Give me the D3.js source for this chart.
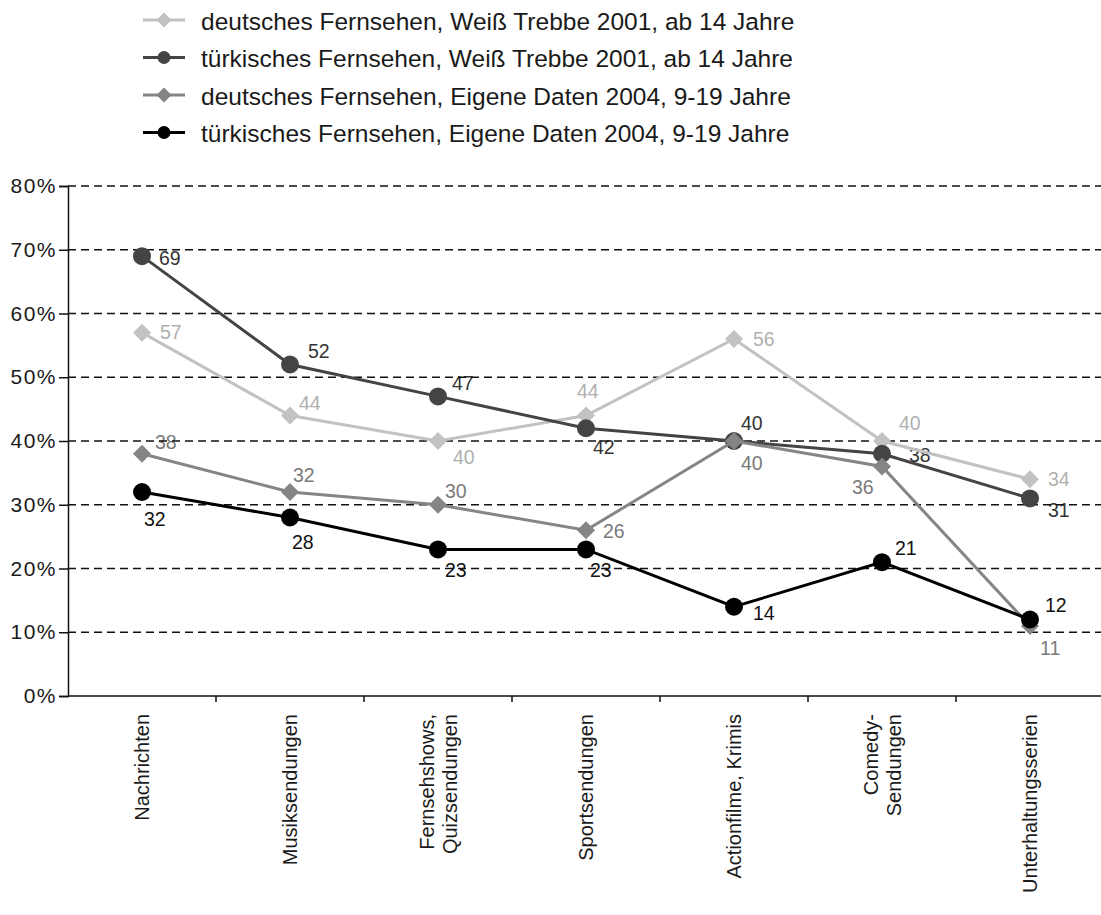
<!DOCTYPE html>
<html>
<head>
<meta charset="utf-8">
<script src="https://cdn.jsdelivr.net/npm/d3@7"></script>
<style>
  html, body { margin: 0; padding: 0; background: #fff; }
  svg { display: block; font-family: "Liberation Sans", Arial, sans-serif; }
</style>
</head>
<body>
<svg id="chart" width="1101" height="915"></svg>
<script>
// Categories (multi-line labels split on "\n")
const categories = [
  "Nachrichten",
  "Musiksendungen",
  "Fernsehshows,\nQuizsendungen",
  "Sportsendungen",
  "Actionfilme, Krimis",
  "Comedy-\nSendungen",
  "Unterhaltungsserien"
];

const seriesNames = [
  "deutsches Fernsehen, Weiß Trebbe 2001, ab 14 Jahre",
  "türkisches Fernsehen, Weiß Trebbe 2001, ab 14 Jahre",
  "deutsches Fernsehen, Eigene Daten 2004, 9-19 Jahre",
  "türkisches Fernsehen, Eigene Daten 2004, 9-19 Jahre"
];

// Percent values per series
const deutschWT2001  = [57, 44, 40, 44, 56, 40, 34];
const tuerkischWT2001 = [69, 52, 47, 42, 40, 38, 31];
const deutschEigene2004 = [38, 32, 30, 26, 40, 36, 11];
const tuerkischEigene2004 = [32, 28, 23, 23, 14, 21, 12];

const yTicks = [0, 10, 20, 30, 40, 50, 60, 70, 80];

// Presentation
const seriesValues = [deutschWT2001, tuerkischWT2001, deutschEigene2004, tuerkischEigene2004];
const seriesColors = ["#c2c2c2", "#444444", "#858585", "#000000"];
const labelColors  = ["#b0b0b0", "#333333", "#7a7a7a", "#111111"];
const seriesSymbols = ["diamond", "circle", "diamond", "circle"];

// Value label offsets [dx, dy] relative to each point
const labelOffsets = [
  [[18, 0], [9, -12], [15, 16], [-9, -24], [19, 0], [17, -18], [18, 0]],
  [[17, 2], [18, -13], [14, -13], [7, 19], [7, -18], [27, 1], [18, 12]],
  [[13, -12], [3, -17], [7, -14], [17, 1], [7, 22], [-30, 21], [10, 22]],
  [[2, 27], [2, 25], [7, 21], [4, 21], [19, 6], [13, -14], [15, -14]]
];

const svg = d3.select("#chart");
const W = 1101;
const plot = { left: 68, right: 1104, top: 186, bottom: 696 };

const x = d3.scaleBand().domain(categories).range([plot.left, plot.right]).paddingInner(0).paddingOuter(0);
const y = d3.scaleLinear().domain([0, 80]).range([plot.bottom, plot.top]);
const cx = c => x(c) + x.bandwidth() / 2;

function drawMarker(sel, type, color, size) {
  if (type === "circle") {
    sel.append("circle").attr("r", size).attr("fill", color);
  } else {
    const s = size;
    sel.append("path").attr("d", `M0,${-s}L${s},0L0,${s}L${-s},0Z`).attr("fill", color);
  }
}

// Legend
const legend = svg.append("g");
seriesNames.forEach((name, i) => {
  const g = legend.append("g").attr("transform", `translate(0, ${20 + i * 37.5})`);
  g.append("line").attr("x1", 143).attr("x2", 185).attr("y1", 0).attr("y2", 0)
    .attr("stroke", seriesColors[i]).attr("stroke-width", 3);
  const m = g.append("g").attr("transform", "translate(164,0)");
  drawMarker(m, seriesSymbols[i], seriesColors[i], seriesSymbols[i] === "circle" ? 6.5 : 7.5);
  g.append("text").attr("x", 201).attr("y", 1).attr("dy", "0.35em")
    .attr("font-size", 24.5).attr("fill", "#1a1a1a").text(name);
});

// Value labels (drawn beneath the gridlines)
const labelLayer = svg.append("g");
seriesValues.forEach((vals, i) => {
  vals.forEach((v, j) => {
    const [dx, dy] = labelOffsets[i][j];
    labelLayer.append("text")
      .attr("x", cx(categories[j]) + dx)
      .attr("y", y(v) + dy)
      .attr("dy", "0.35em")
      .attr("font-size", 19.5)
      .attr("fill", labelColors[i])
      .text(v);
  });
});

// Horizontal dashed gridlines
svg.append("g").selectAll("line").data(yTicks.filter(t => t > 0)).join("line")
  .attr("x1", plot.left).attr("x2", W)
  .attr("y1", d => y(d)).attr("y2", d => y(d))
  .attr("stroke", "#111").attr("stroke-width", 1.5)
  .attr("stroke-dasharray", "8,5");

// Y axis
const yAxis = svg.append("g").attr("transform", `translate(${plot.left},0)`)
  .call(d3.axisLeft(y).tickValues(yTicks).tickFormat(d => d + "%").tickSize(9).tickPadding(2));
yAxis.select(".domain").attr("stroke", "#111").attr("stroke-width", 1.5);
yAxis.selectAll(".tick line").attr("stroke", "#111").attr("stroke-width", 1.5);
yAxis.selectAll(".tick text").attr("font-size", 21).attr("fill", "#1a1a1a")
  .attr("letter-spacing", 1.5)
  .attr("font-family", "'Liberation Sans', Arial, sans-serif");

// X axis (ticks at band boundaries)
const xAxisG = svg.append("g").attr("transform", `translate(0,${plot.bottom})`);
xAxisG.append("line").attr("x1", plot.left).attr("x2", W).attr("y1", 0).attr("y2", 0)
  .attr("stroke", "#111").attr("stroke-width", 1.5);
xAxisG.selectAll("line.tick").data(categories.slice(1)).join("line").attr("class", "tick")
  .attr("x1", d => x(d)).attr("x2", d => x(d)).attr("y1", 0).attr("y2", 6)
  .attr("stroke", "#111").attr("stroke-width", 1.5);

// Rotated category labels
categories.forEach(c => {
  const lines = c.split("\n");
  const t = svg.append("text")
    .attr("transform", `translate(${cx(c)}, ${plot.bottom + 18}) rotate(-90)`)
    .attr("text-anchor", "end")
    .attr("font-size", 20)
    .attr("fill", "#1a1a1a");
  const lh = 23;
  lines.forEach((ln, k) => {
    const off = (k - (lines.length - 1) / 2) * lh;
    t.append("tspan").attr("x", 0).attr("y", off).attr("dy", "0.35em").text(ln);
  });
});

// Series lines and markers
const line = d3.line().x((d, j) => cx(categories[j])).y(d => y(d));
seriesValues.forEach((vals, i) => {
  svg.append("path").datum(vals).attr("d", line)
    .attr("fill", "none").attr("stroke", seriesColors[i]).attr("stroke-width", 3);
  const g = svg.append("g");
  vals.forEach((v, j) => {
    const m = g.append("g").attr("transform", `translate(${cx(categories[j])},${y(v)})`);
    drawMarker(m, seriesSymbols[i], seriesColors[i], 9);
  });
});
</script>
</body>
</html>
